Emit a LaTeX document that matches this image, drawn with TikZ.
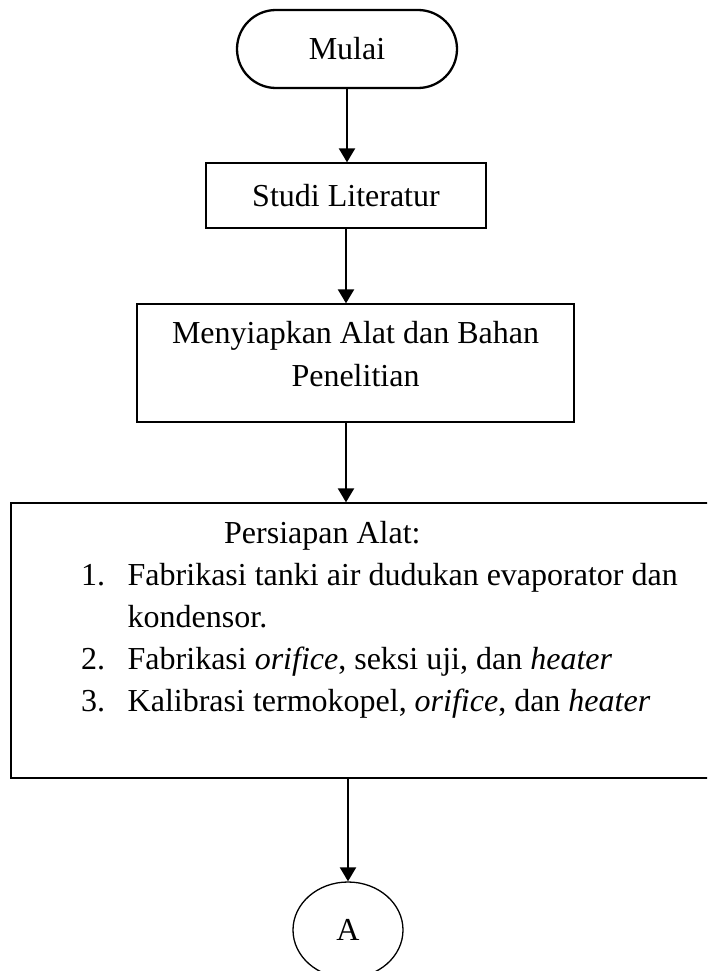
\documentclass[tikz,border=0pt]{standalone}
\usepackage{fontspec}
\setmainfont{Liberation Serif}
\usetikzlibrary{shapes.geometric, arrows.meta}

\begin{document}
\begin{tikzpicture}[x=1pt, y=-1pt,
    font=\fontsize{32}{43}\selectfont,
    kotak/.style={draw, line width=1.3pt, inner sep=0pt},
    teks/.style={anchor=base west, inner sep=0pt},
    panah/.style={line width=2.2pt, -{Triangle[length=14pt, width=16pt]}}]
    \path[use as bounding box] (0,0) rectangle (707,971);
    \clip (0,0) rectangle (707,971);
    \node[kotak, line width=2.3pt, rounded corners=39pt, minimum width=220pt, minimum height=78pt] (mulai) at (347,49) {Mulai};
    \node[kotak, minimum width=280pt, minimum height=65pt] (studi) at (346,195.5) {Studi Literatur};
    \node[kotak, minimum width=437pt, minimum height=118pt, align=center, text depth=18pt] (siapkan) at (355.5,363) {Menyiapkan Alat dan Bahan\\Penelitian};
    \node[kotak, minimum width=709pt, minimum height=275pt] (alat) at (365.5,640.5) {};
    \node[ellipse, draw, line width=1.3pt, minimum width=110pt, minimum height=96pt, inner sep=0pt] (titikA) at (348,930) {A};
    % isi kotak persiapan alat
    \node[teks] (judul) at (224,543) {Persiapan Alat:};
    \node[teks] (no1) at (81,585) {1.};
    \node[teks] (item1) at (127.5,585) {Fabrikasi tanki air dudukan evaporator dan};
    \node[teks] (item1b) at (127.5,627) {kondensor.};
    \node[teks] (no2) at (81,669) {2.};
    \node[teks] (item2) at (127.5,669) {Fabrikasi \textit{orifice}, seksi uji, dan \textit{heater}};
    \node[teks] (no3) at (81,711) {3.};
    \node[teks] (item3) at (127.5,711) {Kalibrasi termokopel, \textit{orifice}, dan \textit{heater}};
    % panah
    \draw[panah] (mulai.south) -- (mulai.south |- studi.north);
    \draw[panah] (studi.south) -- (studi.south |- siapkan.north);
    \draw[panah] (siapkan.south -| studi.south) -- (studi.south |- alat.north);
    \draw[panah] (alat.south -| titikA.north) -- (titikA.north);
\end{tikzpicture}
\end{document}
